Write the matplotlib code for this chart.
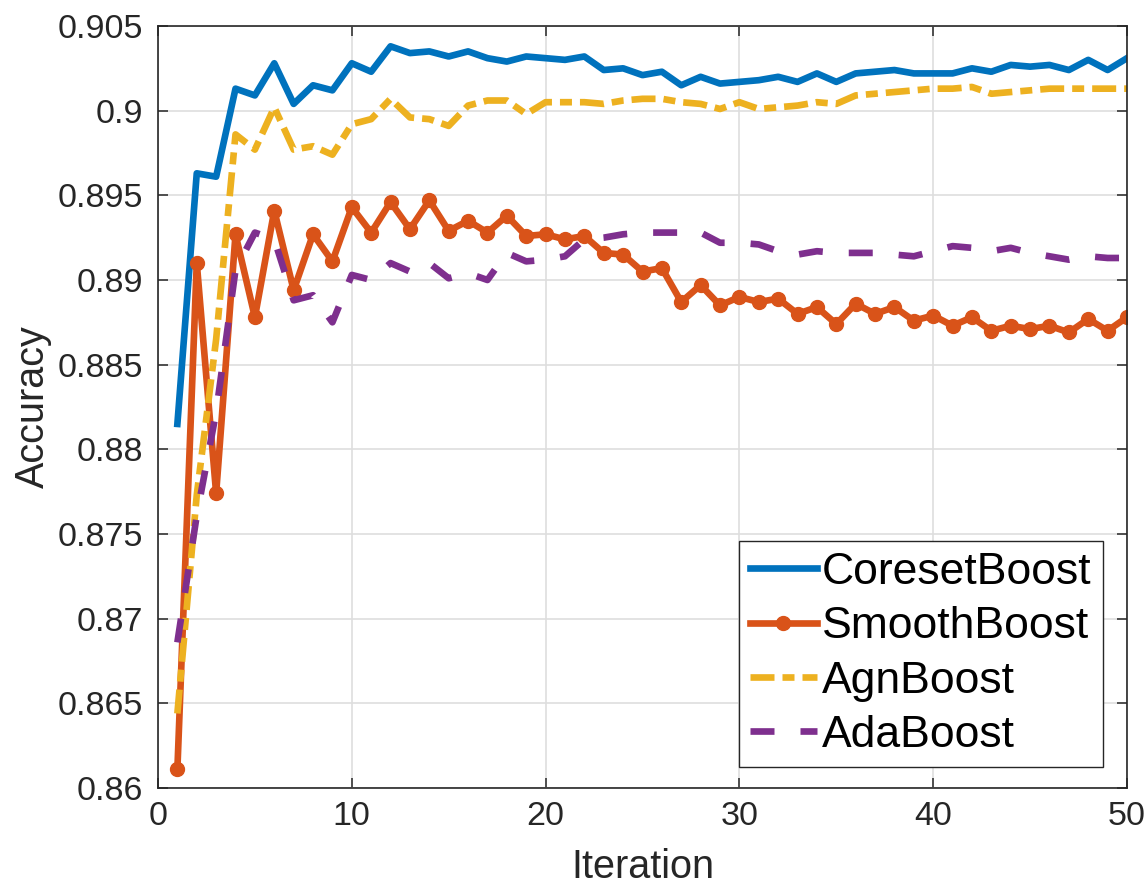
import matplotlib
matplotlib.use('Agg')
import matplotlib.pyplot as plt
import numpy as np

# accuracy per boosting iteration (1..50)
iterations = np.arange(1, 51)

coreset_boost = [0.8815, 0.8963, 0.8961, 0.9013, 0.9009, 0.9028, 0.9004, 0.9015, 0.9012, 0.9028,
                 0.9023, 0.9038, 0.9034, 0.9035, 0.9032, 0.9035, 0.9031, 0.9029, 0.9032, 0.9031,
                 0.9030, 0.9032, 0.9024, 0.9025, 0.9021, 0.9023, 0.9015, 0.9020, 0.9016, 0.9017,
                 0.9018, 0.9020, 0.9017, 0.9022, 0.9017, 0.9022, 0.9023, 0.9024, 0.9022, 0.9022,
                 0.9022, 0.9025, 0.9023, 0.9027, 0.9026, 0.9027, 0.9024, 0.9030, 0.9024, 0.9031]

smooth_boost = [0.8611, 0.8910, 0.8774, 0.8927, 0.8878, 0.8941, 0.8894, 0.8927, 0.8911, 0.8943,
                0.8928, 0.8946, 0.8930, 0.8947, 0.8929, 0.8935, 0.8928, 0.8938, 0.8926, 0.8927,
                0.8924, 0.8926, 0.8916, 0.8915, 0.8905, 0.8907, 0.8887, 0.8897, 0.8885, 0.8890,
                0.8887, 0.8889, 0.8880, 0.8884, 0.8874, 0.8886, 0.8880, 0.8884, 0.8876, 0.8879,
                0.8873, 0.8878, 0.8870, 0.8873, 0.8871, 0.8873, 0.8869, 0.8877, 0.8870, 0.8878]

agn_boost = [0.8644, 0.8773, 0.8865, 0.8986, 0.8977, 0.9002, 0.8977, 0.8979, 0.8974, 0.8992,
             0.8995, 0.9007, 0.8996, 0.8995, 0.8991, 0.9003, 0.9006, 0.9006, 0.8998, 0.9005,
             0.9005, 0.9005, 0.9004, 0.9006, 0.9007, 0.9007, 0.9005, 0.9004, 0.9001, 0.9005,
             0.9001, 0.9002, 0.9003, 0.9005, 0.9004, 0.9009, 0.9010, 0.9011, 0.9012, 0.9013,
             0.9013, 0.9014, 0.9010, 0.9011, 0.9012, 0.9013, 0.9013, 0.9013, 0.9013, 0.9013]

ada_boost = [0.8686, 0.8761, 0.8822, 0.8906, 0.8928, 0.8924, 0.8888, 0.8891, 0.8875, 0.8903,
             0.8900, 0.8910, 0.8905, 0.8910, 0.8901, 0.8904, 0.8900, 0.8916, 0.8911, 0.8912,
             0.8914, 0.8924, 0.8925, 0.8927, 0.8928, 0.8928, 0.8928, 0.8928, 0.8922, 0.8922,
             0.8921, 0.8917, 0.8915, 0.8917, 0.8916, 0.8916, 0.8916, 0.8915, 0.8914, 0.8917,
             0.8920, 0.8919, 0.8917, 0.8919, 0.8916, 0.8914, 0.8912, 0.8914, 0.8913, 0.8913]

y_ticks = [0.86, 0.865, 0.87, 0.875, 0.88, 0.885, 0.89, 0.895, 0.9, 0.905]
x_ticks = [0, 10, 20, 30, 40, 50]

plt.rcParams['font.family'] = ['Liberation Sans', 'DejaVu Sans']

fig = plt.figure(figsize=(11.47, 8.88), dpi=100)
ax = fig.add_axes([158 / 1147, 1 - 788 / 888, 969 / 1147, 762 / 888])

lw = 4.8
ax.plot(iterations, coreset_boost, color='#0072BD', lw=lw, label='CoresetBoost')
ax.plot(iterations, smooth_boost, color='#D95319', lw=lw, marker='o', markersize=10,
        label='SmoothBoost')
ax.plot(iterations, agn_boost, color='#EDB120', lw=lw, dashes=(3.6, 1.2, 1.8, 1.2),
        label='AgnBoost')
ax.plot(iterations, ada_boost, color='#7E2F8E', lw=lw, dashes=(3.6, 3.9),
        label='AdaBoost')

ax.set_xlim(0, 50)
ax.set_ylim(0.86, 0.905)
ax.set_xticks(x_ticks)
ax.set_yticks(y_ticks)
ax.set_yticklabels(['%g' % t for t in y_ticks])

ax.grid(True, color='#dedede', lw=1.2)
ax.set_axisbelow(True)
for side in ax.spines.values():
    side.set_color('#262626')
    side.set_linewidth(1.2)
ax.tick_params(direction='in', length=7, width=1.1, color='#262626',
               labelsize=24.5, labelcolor='#262626', top=True, right=True)
ax.tick_params(axis='y', pad=11)
ax.tick_params(axis='x', pad=9)

ax.set_xlabel('Iteration', fontsize=28.5, color='#262626', labelpad=12)
ax.set_ylabel('Accuracy', fontsize=28.5, color='#262626', labelpad=4)

leg = ax.legend(loc='lower right', bbox_to_anchor=(0.975, 0.0276), borderaxespad=0,
                fontsize=32, handlelength=1.5, handletextpad=0.12, labelspacing=0.3,
                borderpad=0.25, numpoints=1, fancybox=False, framealpha=1)
leg.get_frame().set_edgecolor('#262626')
leg.get_frame().set_linewidth(1.0)

fig.savefig('out.png', dpi=100)
